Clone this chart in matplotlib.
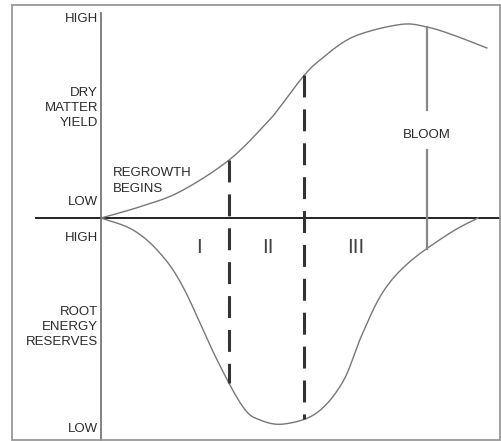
import numpy as np
import matplotlib
matplotlib.use('Agg')
import matplotlib.pyplot as plt
from matplotlib.patches import Rectangle

plt.rcParams['font.family'] = ['Liberation Sans', 'DejaVu Sans']
plt.rcParams['lines.scale_dashes'] = False

# time after cutting (0..100) and relative levels (0..100)
time_yield = [0, 10.1, 20.4, 33.1, 42.8, 46.3, 52.2, 56.6, 65.1, 77.3, 84.2, 91.0, 99.7]
dry_matter = [0, 5.65, 13.15, 29.0, 47.5, 55.65, 70.65, 79.0, 90.5, 96.75, 95.5, 91.5, 85]

time_root = [0, 8.3, 15.2, 21.2, 30.0, 36.7, 41.1, 47.3, 55.7, 62.5, 67.4,
             72.9, 79.8, 90.2, 97.4]
root_reserves = [0, -6, -17.5, -34.5, -71, -94.5, -101, -103, -97.5, -81.85, -58.5,
                 -36.85, -21.85, -7.5, 0]

stage_bounds = [33.1, 52.5]
stage_names = ['I', 'II', 'III']
stage_label_t = [25.3, 43.2, 65.9]
bloom_t = 84.2

text_color = '#2a2a2a'


def smooth(xs, ys, n=20):
    # catmull-rom curve through the read points, for drawing only
    pts = np.column_stack([xs, ys])
    out = [pts[0]]
    u = np.linspace(0, 1, n + 1)[1:, None]
    for i in range(len(pts) - 1):
        p0 = pts[max(i - 1, 0)]
        p1 = pts[i]
        p2 = pts[i + 1]
        p3 = pts[min(i + 2, len(pts) - 1)]
        c1 = p1 + (p2 - p0) / 6
        c2 = p2 - (p3 - p1) / 6
        seg = ((1 - u) ** 3) * p1 + 3 * ((1 - u) ** 2) * u * c1 + 3 * (1 - u) * u ** 2 * c2 + u ** 3 * p2
        out.extend(seg)
    out = np.array(out)
    return out[:, 0], out[:, 1]


fig = plt.figure(figsize=(5.02, 4.41), dpi=100)
ax = fig.add_axes([0, 0, 1, 1])
ax.set_xlim(-101 / 3.87, 401 / 3.87)
ax.set_ylim(-111.5, 109)
ax.axis('off')

# outer frame
fig.patches.append(Rectangle((12 / 502, 1 / 441), 488 / 502, 435 / 441,
                             transform=fig.transFigure, fill=False,
                             edgecolor='#999999', linewidth=1.3))

# axes lines
ax.plot([0, 0], [102.5, -112], color='#777777', linewidth=1.3)
ax.plot([-16.8, 103.2], [0, 0], color='#222222', linewidth=1.4)

# curves
yx, yy = smooth(time_yield, dry_matter)
rx, ry = smooth(time_root, root_reserves)
ax.plot(yx, yy, color='#777777', linewidth=1.0)
ax.plot(rx, ry, color='#777777', linewidth=1.0)

# stage boundaries (dashed, drawn top to bottom)
for t in stage_bounds:
    top = np.interp(t, yx, yy)
    bottom = np.interp(t, rx, ry)
    ax.plot([t, t], [top, bottom], color='#333333', linewidth=2.2,
            dashes=(15.8, 8.6), solid_capstyle='butt', dash_capstyle='butt')

# bloom line with a gap for the label
bloom_top = np.interp(bloom_t, yx, yy)
bloom_bottom = np.interp(bloom_t, rx, ry)
ax.plot([bloom_t, bloom_t], [bloom_top, 54], color='#888888', linewidth=1.6)
ax.plot([bloom_t, bloom_t], [34, bloom_bottom], color='#888888', linewidth=1.6)
ax.text(bloom_t, 41.5, 'BLOOM', ha='center', va='center', fontsize=9.5, color=text_color)

# left side labels
ax.text(-0.8, 99.5, 'HIGH', ha='right', va='center', fontsize=9.5, color=text_color)
ax.text(-0.8, 55, 'DRY\nMATTER\nYIELD', ha='right', va='center', fontsize=9.5,
        color=text_color, linespacing=1.35)
ax.text(-0.8, 8, 'LOW', ha='right', va='center', fontsize=9.5, color=text_color)
ax.text(-0.8, -10, 'HIGH', ha='right', va='center', fontsize=9.5, color=text_color)
ax.text(-0.8, -54.5, 'ROOT\nENERGY\nRESERVES', ha='right', va='center', fontsize=9.5,
        color=text_color, linespacing=1.35)
ax.text(-0.8, -105.5, 'LOW', ha='right', va='center', fontsize=9.5, color=text_color)

ax.text(3.1, 18.5, 'REGROWTH\nBEGINS', ha='left', va='center', fontsize=9.5,
        color=text_color, linespacing=1.4)

# stage numerals
for t, name in zip(stage_label_t, stage_names):
    ax.text(t, -15, name, ha='center', va='center', fontsize=15, color='#444444')

fig.savefig('out.png', dpi=100)
